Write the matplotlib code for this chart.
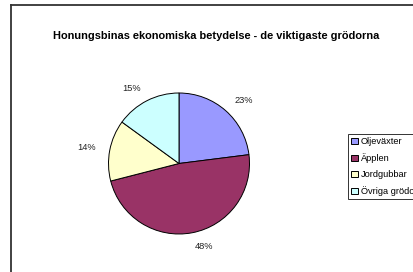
import matplotlib
matplotlib.use("Agg")
import matplotlib.pyplot as plt
from matplotlib.lines import Line2D

categories = ["Oljeväxter", "Äpplen", "Jordgubbar", "Övriga grödor"]
values = [23, 48, 14, 15]
colors = ["#9999FF", "#993366", "#FFFFCC", "#CCFFFF"]
title = "Honungsbinas ekonomiska betydelse - de viktigaste grödorna"

plt.rcParams['font.family'] = ['Liberation Sans', 'DejaVu Sans']

W, H = 413, 272
fig = plt.figure(figsize=(W / 100, H / 100), dpi=100)

cx, cy, r = 179, 163.5, 70.5
ax = fig.add_axes([(cx - r) / W, (H - cy - r) / H, 2 * r / W, 2 * r / H])
wedges, texts = ax.pie(values, colors=colors, startangle=90, counterclock=False,
                       labels=[f"{v}%" for v in values], labeldistance=1.2,
                       wedgeprops=dict(edgecolor="black", linewidth=0.7),
                       textprops=dict(fontsize=6.7, color="#222222"))
ax.set_xlim(-1, 1)
ax.set_ylim(-1, 1)
ax.set_aspect("equal")
ax.axis("off")

fig.text(216 / W, 1 - 36 / H, title, ha="center", va="center",
         fontsize=7.9, fontweight="bold")

leg = fig.legend(wedges, categories, loc="upper left",
                 bbox_to_anchor=(348 / W, 1 - 134 / H),
                 fontsize=6.7, frameon=True, fancybox=False,
                 handlelength=0.7, handleheight=0.7, handletextpad=0.3,
                 labelspacing=0.75, borderpad=0.35, borderaxespad=0)
leg.get_frame().set_edgecolor("black")
leg.get_frame().set_linewidth(0.7)

# outer chart border (left and top visible)
fig.add_artist(Line2D([10.5 / W, 10.5 / W], [1 - 4.5 / H, 0], transform=fig.transFigure,
                      color="#333333", lw=1.3))
fig.add_artist(Line2D([10.5 / W, 1], [1 - 4.5 / H, 1 - 4.5 / H], transform=fig.transFigure,
                      color="#333333", lw=1.3))

fig.savefig("out.png", dpi=100)
